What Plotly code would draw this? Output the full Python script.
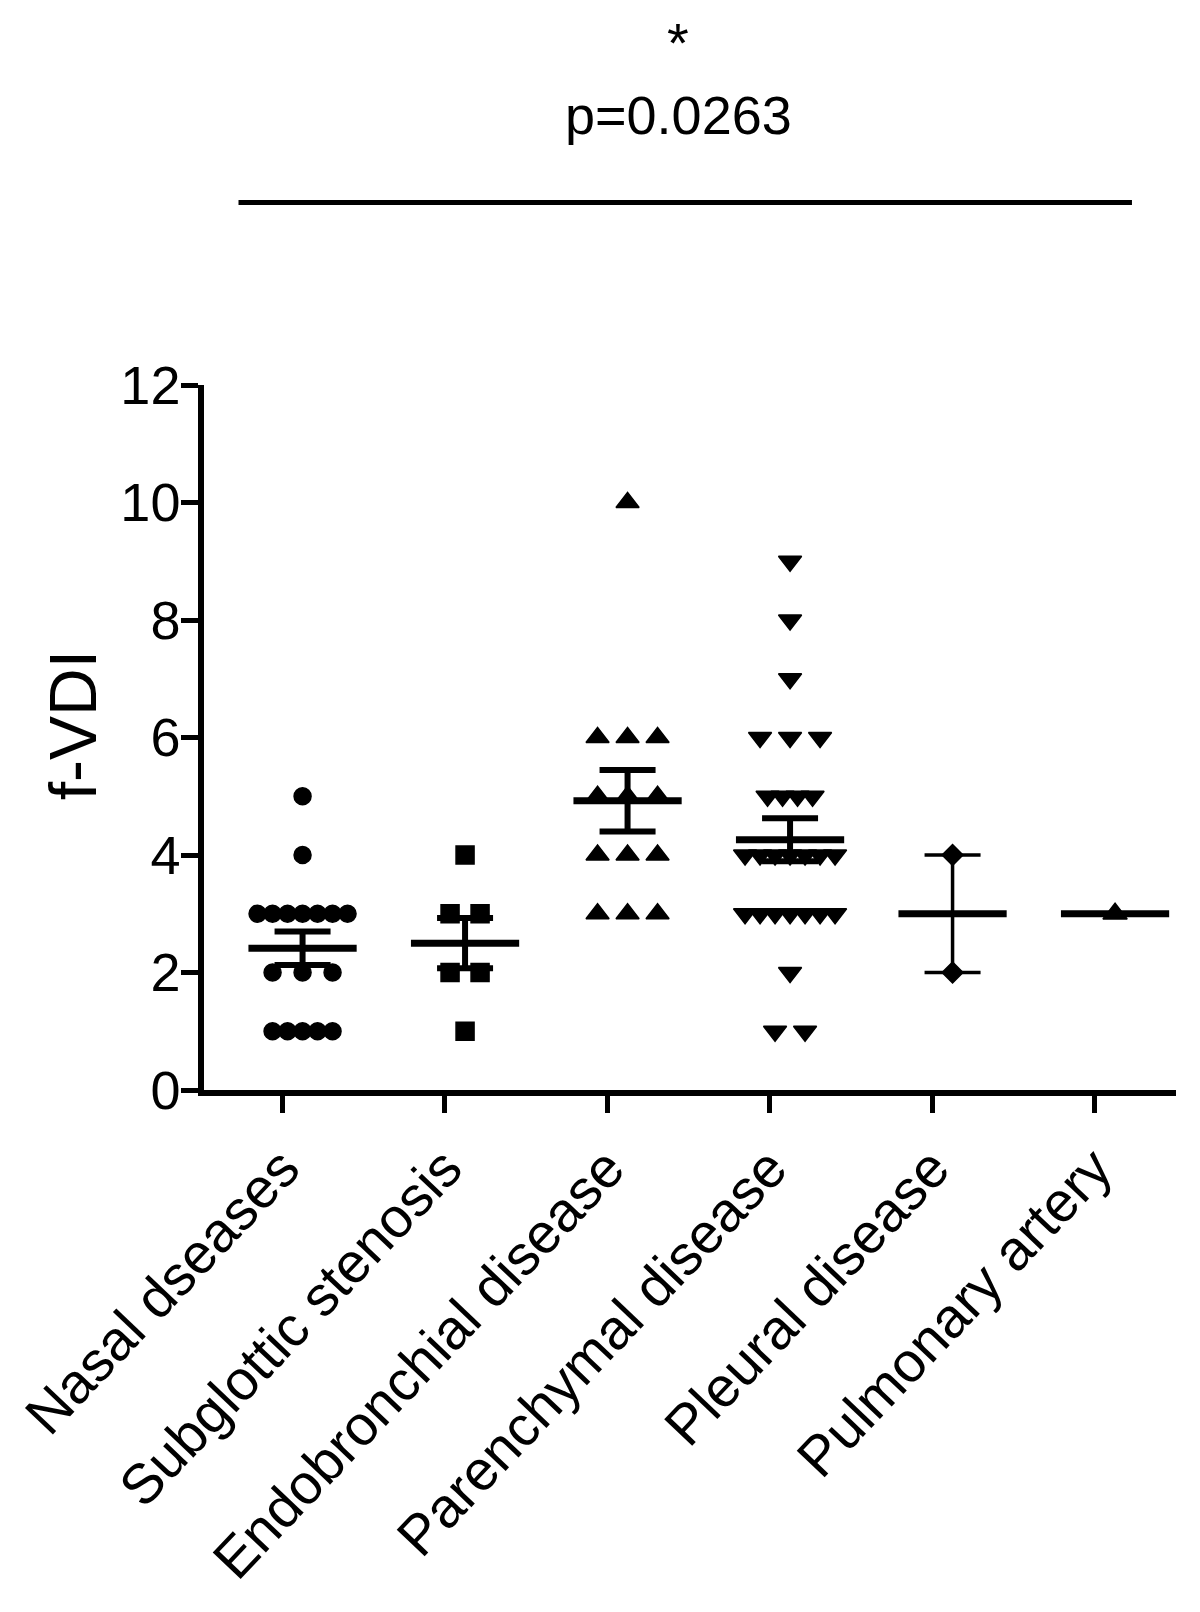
import numpy as np
import plotly.graph_objects as go

# ---------------- data ----------------
categories = ["Nasal dseases", "Subglottic stenosis", "Endobronchial disease",
              "Parenchymal disease", "Pleural disease", "Pulmonary artery"]
nasal = [5, 4, 3, 3, 3, 3, 3, 3, 3, 2, 2, 2, 1, 1, 1, 1, 1]
subglottic = [4, 3, 3, 2, 2, 1]
endobronchial = [10, 6, 6, 6, 5, 5, 5, 4, 4, 4, 3, 3, 3]
parenchymal = [9, 8, 7, 6, 6, 6, 5, 5, 5, 5, 4, 4, 4, 4, 4, 4, 4,
               3, 3, 3, 3, 3, 3, 3, 2, 1, 1]
pleural = [4, 2]
pulmonary = [3]
y_ticks = [0, 2, 4, 6, 8, 10, 12]
y_title = "f-VDI"
p_label = "p=0.0263"
sig_label = "*"

groups = [nasal, subglottic, endobronchial, parenchymal, pleural, pulmonary]

# ---------------- styles ----------------
symbols = ["circle", "square", "triangle-up", "triangle-down", "diamond", "triangle-up"]
msizes = [17, 18, 20, 20, 16, 21]
sem_thick = [6, 6, 6, 6, 3.5, 6]
GROUP_SHIFT = 0.125     # Prism draws columns slightly right of the tick
UNIT = 0.0923           # horizontal slot width (category units)
MEAN_HALF = 0.333       # half-length of mean bar (category units)
FONT = "Liberation Sans, Arial, Helvetica, sans-serif"


def spread(values):
    vals = np.asarray(values, dtype=float)
    offs = np.zeros(len(vals))
    for v in np.unique(vals):
        idx = np.where(vals == v)[0]
        n = len(idx)
        step = 2 * UNIT if n <= 3 else UNIT
        offs[idx] = (np.arange(n) - (n - 1) / 2) * step
    return offs


fig = go.Figure()

for i, vals in enumerate(groups):
    c = i + GROUP_SHIFT
    arr = np.asarray(vals, dtype=float)
    m = arr.mean()
    sem = arr.std(ddof=1) / np.sqrt(len(arr)) if len(arr) > 1 else 0.0
    # mean bar
    fig.add_trace(go.Scatter(
        x=[c - MEAN_HALF, c + MEAN_HALF], y=[m, m], mode="lines",
        line=dict(color="black", width=7), hoverinfo="skip", showlegend=False))
    # SEM error bar
    if len(arr) > 1:
        fig.add_trace(go.Scatter(
            x=[c], y=[m], mode="markers",
            marker=dict(size=1, color="rgba(0,0,0,0)"),
            error_y=dict(type="data", array=[sem], symmetric=True,
                         color="black", thickness=sem_thick[i], width=28),
            hoverinfo="skip", showlegend=False))
    # points
    fig.add_trace(go.Scatter(
        x=c + spread(vals), y=arr, mode="markers",
        marker=dict(symbol=symbols[i], size=msizes[i], color="black",
                    line=dict(width=1.5, color="black")),
        name=categories[i], showlegend=False))

# margins compensate for the 8px default body margin of the html page
fig.update_layout(
    width=1200, height=1612,
    margin=dict(l=196, r=32, t=377, b=530),
    plot_bgcolor="white", paper_bgcolor="white",
    font=dict(family=FONT, color="black"),
    showlegend=False,
)

fig.update_xaxes(
    range=[-0.4815, 5.5], tickmode="array", tickvals=list(range(len(categories))),
    ticktext=categories, tickangle=-46.5, tickfont=dict(size=56, family=FONT),
    showline=True, linewidth=5.5, linecolor="black", ticks="outside",
    ticklen=17, tickwidth=5, tickcolor="black", showgrid=False, zeroline=False,
    automargin=False,
)
fig.update_yaxes(
    range=[0, 12], tickmode="array", tickvals=y_ticks,
    tickfont=dict(size=54, family=FONT), ticklabelstandoff=-10,
    showline=True, linewidth=5.5, linecolor="black", ticks="outside",
    ticklen=17, tickwidth=5, tickcolor="black", showgrid=False, zeroline=False,
    automargin=False,
)

# y-axis title
fig.add_annotation(text=y_title, xref="paper", yref="paper", x=-0.1353, y=0.518,
                   textangle=-90, showarrow=False, font=dict(size=66, family=FONT),
                   xanchor="center", yanchor="middle")

# significance bracket
fig.add_shape(type="line", xref="paper", yref="paper",
              x0=0.0355, x1=0.9547, y0=1.259, y1=1.259,
              line=dict(color="black", width=5))
fig.add_annotation(text=p_label, xref="paper", yref="paper", x=0.4877, y=1.383,
                   showarrow=False, font=dict(size=54, family=FONT),
                   xanchor="center", yanchor="middle")
fig.add_annotation(text=sig_label, xref="paper", yref="paper", x=0.488, y=1.5335,
                   showarrow=False, font=dict(size=56, family=FONT),
                   xanchor="center", yanchor="top")

fig.write_html("out.html")
